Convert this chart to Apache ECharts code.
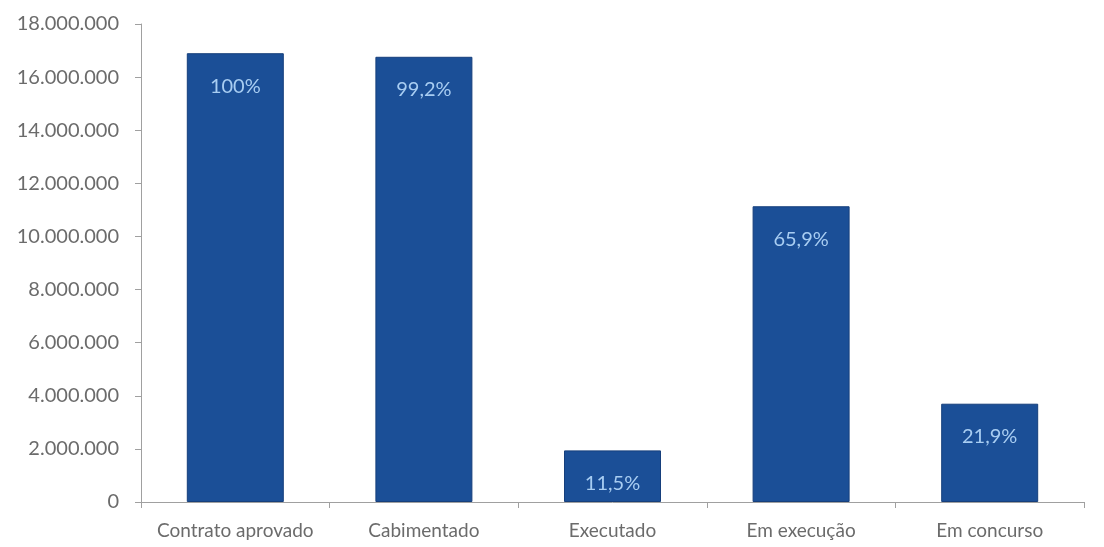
<!DOCTYPE html>
<html>
<head>
<meta charset="utf-8">
<script src="https://cdn.jsdelivr.net/npm/echarts@6/dist/echarts.min.js"></script>
<style>
  html, body { margin: 0; padding: 0; background: #fff; }
  #chart { width: 1104px; height: 547px; }
</style>
</head>
<body>
<div id="chart"></div>
<script>
// Fases do contrato e respetivos montantes
const categories = ['Contrato aprovado', 'Cabimentado', 'Executado', 'Em execução', 'Em concurso'];
const values = [16900000, 16765000, 1943500, 11137000, 3701000];
const percentLabels = ['100%', '99,2%', '11,5%', '65,9%', '21,9%'];

const fmtThousands = v => String(v).replace(/\B(?=(\d{3})+(?!\d))/g, '.');

const chart = echarts.init(document.getElementById('chart'));
chart.setOption({
  animation: false,
  grid: { left: 141, right: 20, top: 24, bottom: 45 },
  xAxis: {
    type: 'category',
    data: categories,
    axisLine: { lineStyle: { color: '#a0a0a0', width: 1 } },
    axisTick: { show: true, interval: 0, length: 6, lineStyle: { color: '#a0a0a0' } },
    axisLabel: { interval: 0, color: '#6b6b6b', fontFamily: 'Lato', fontSize: 19, margin: 19 }
  },
  yAxis: {
    type: 'value',
    min: 0,
    max: 18000000,
    interval: 2000000,
    splitLine: { show: false },
    axisLine: { show: true, lineStyle: { color: '#a0a0a0', width: 1 } },
    axisTick: { show: true, length: 6, lineStyle: { color: '#a0a0a0' } },
    axisLabel: { color: '#6b6b6b', fontFamily: 'Lato', fontSize: 20, margin: 22, formatter: fmtThousands }
  },
  series: [{
    type: 'bar',
    data: values,
    barWidth: 97,
    itemStyle: { color: '#1b4f97', borderColor: '#163f7c', borderWidth: 1 },
    label: {
      show: true,
      position: 'insideTop',
      distance: 23,
      color: '#a8cdf2',
      fontFamily: 'Lato',
      fontSize: 20,
      formatter: p => percentLabels[p.dataIndex]
    }
  }]
});
</script>
</body>
</html>
